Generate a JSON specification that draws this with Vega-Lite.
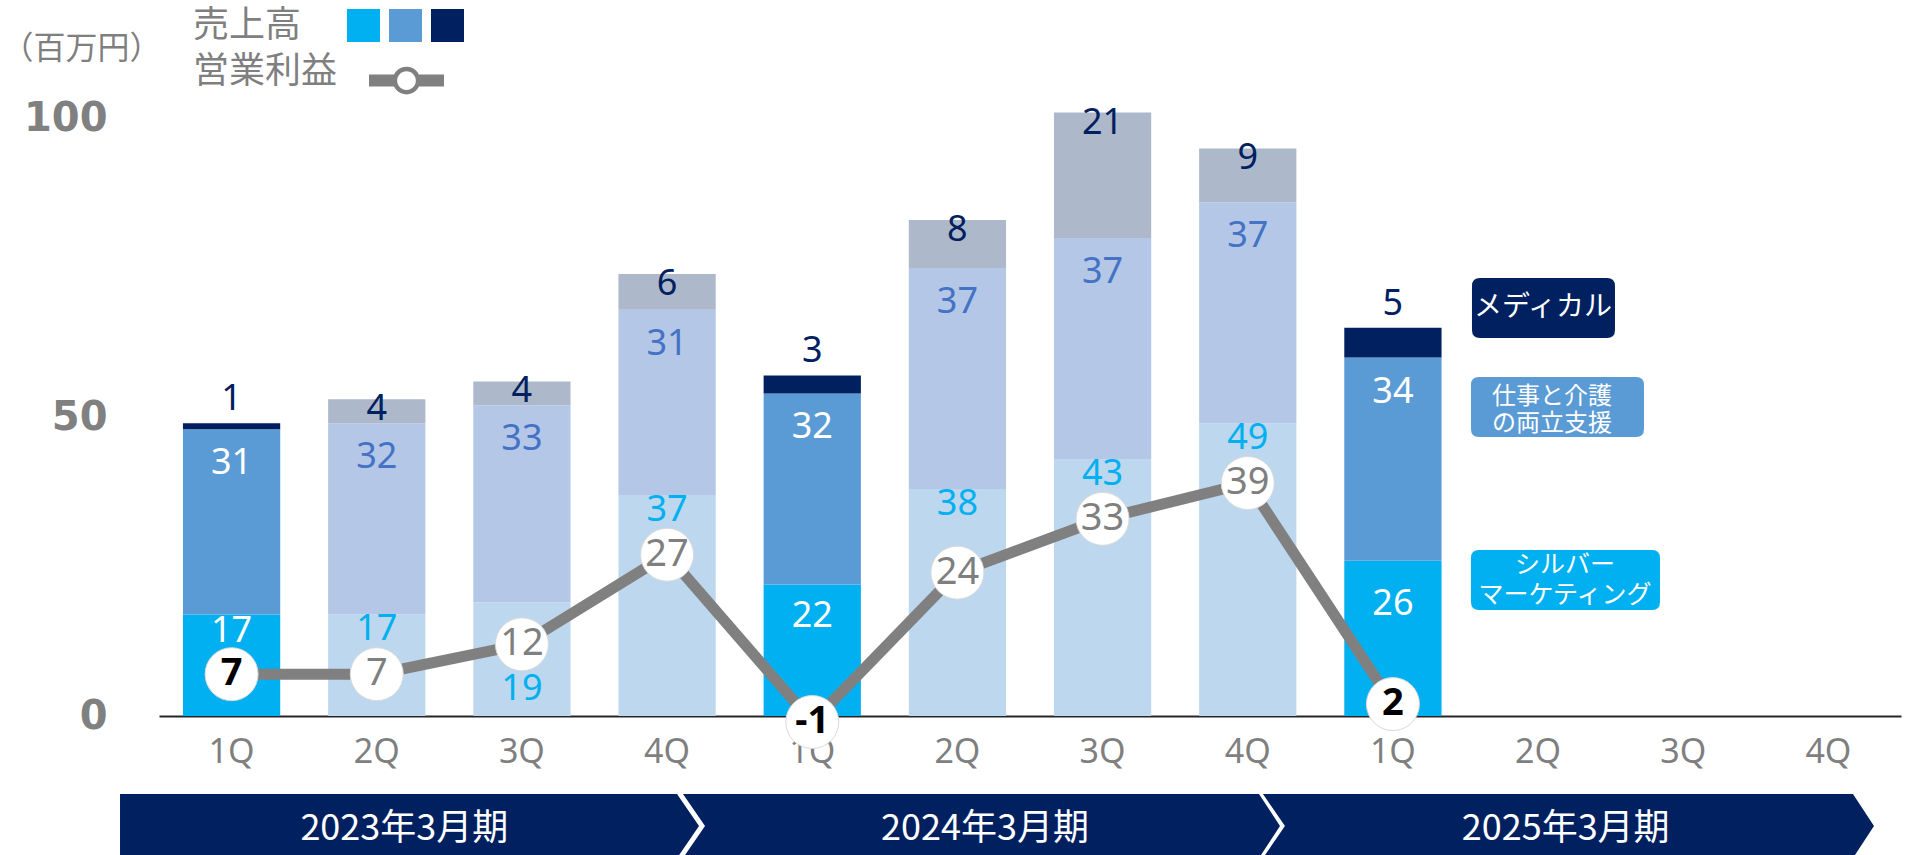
{
  "$schema": "https://vega.github.io/schema/vega-lite/v6.json",
  "autosize": {"type": "none"},
  "padding": {"left": 159, "top": 0, "right": 12, "bottom": 0},
  "width": 1742,
  "height": 855,
  "background": "white",
  "config": {
    "font": "Noto Sans",
    "view": {"stroke": null},
    "axis": {"grid": false},
    "axisX": {"labelExpr": "slice(datum.label, 3)", "labelFont": "Noto Sans", "labelFontSize": 34, "labelColor": "#7F7F7F", "labelPadding": 19, "labelAngle": 0, "ticks": false, "domain": true, "domainColor": "#262626", "domainWidth": 2, "offset": -139, "grid": false},
    "axisY": {"labelFont": "DejaVu Sans", "labelFontWeight": "bold", "labelFontSize": 40, "labelColor": "#808080", "labelPadding": 52, "labelBaseline": "middle", "ticks": false, "domain": false, "grid": false, "titleAngle": 0, "titleX": -78, "titleY": 48, "titleAlign": "center", "titleBaseline": "middle", "titleFont": "Noto Sans CJK JP", "titleFontSize": 32, "titleFontWeight": "normal", "titleColor": "#7F7F7F"},
    "legend": {"padding": 0, "orient": "none"}
  },
  "layer": [
    {
      "data": {
        "values": [
          {"period": "23-1Q", "fy": "2023年3月期", "q": "1Q", "silver": 17, "work": 31, "medical": 1, "profit": 7},
          {"period": "23-2Q", "fy": "2023年3月期", "q": "2Q", "silver": 17, "work": 32, "medical": 4, "profit": 7},
          {"period": "23-3Q", "fy": "2023年3月期", "q": "3Q", "silver": 19, "work": 33, "medical": 4, "profit": 12},
          {"period": "23-4Q", "fy": "2023年3月期", "q": "4Q", "silver": 37, "work": 31, "medical": 6, "profit": 27},
          {"period": "24-1Q", "fy": "2024年3月期", "q": "1Q", "silver": 22, "work": 32, "medical": 3, "profit": -1},
          {"period": "24-2Q", "fy": "2024年3月期", "q": "2Q", "silver": 38, "work": 37, "medical": 8, "profit": 24},
          {"period": "24-3Q", "fy": "2024年3月期", "q": "3Q", "silver": 43, "work": 37, "medical": 21, "profit": 33},
          {"period": "24-4Q", "fy": "2024年3月期", "q": "4Q", "silver": 49, "work": 37, "medical": 9, "profit": 39},
          {"period": "25-1Q", "fy": "2025年3月期", "q": "1Q", "silver": 26, "work": 34, "medical": 5, "profit": 2}
        ]
      },
      "layer": [
        {
          "transform": [
            {"fold": ["silver", "work", "medical"], "as": ["seg", "value"]},
            {"calculate": "indexof(['silver','work','medical'], datum.seg)", "as": "ord"},
            {"calculate": "datum.seg + (datum.q == '1Q' ? '_hi' : '_lo')", "as": "ck"},
            {"stack": "value", "groupby": ["period"], "sort": [{"field": "ord", "order": "ascending"}], "as": ["v0", "v1"]},
            {"calculate": "(datum.v0 + datum.v1) / 2", "as": "mid"}
          ],
          "layer": [
            {
              "mark": {"type": "bar", "opacity": 1},
              "encoding": {
                "x": {
                  "field": "period", "type": "nominal", "title": null,
                  "scale": {"domain": ["23-1Q","23-2Q","23-3Q","23-4Q","24-1Q","24-2Q","24-3Q","24-4Q","25-1Q","25-2Q","25-3Q","25-4Q"], "paddingInner": 0.33, "paddingOuter": 0.165}
                },
                "y": {
                  "field": "v1", "type": "quantitative", "title": "（百万円）",
                  "scale": {"domain": [-23.26, 119.84], "nice": false, "zero": false},
                  "axis": {"values": [0, 50, 100]}
                },
                "y2": {"field": "v0"},
                "color": {
                  "field": "ck", "type": "nominal",
                  "scale": {"domain": ["silver_hi","work_hi","medical_hi","silver_lo","work_lo","medical_lo"], "range": ["#00B0F0","#5B9BD5","#002060","#BDD7EE","#B4C7E7","#ADB9CA"]},
                  "legend": {
                    "title": "売上高", "orient": "none", "legendX": 34, "legendY": 9, "direction": "horizontal",
                    "values": ["silver_hi","work_hi","medical_hi"], "labelExpr": "''",
                    "symbolType": "square", "symbolSize": 1089, "symbolStrokeWidth": 0, "labelOffset": 0, "columnPadding": 9,
                    "titleOrient": "left", "titlePadding": 45, "titleFont": "Noto Sans CJK JP", "titleFontSize": 36, "titleFontWeight": "normal", "titleColor": "#7F7F7F", "titleBaseline": "middle", "titleAnchor": "middle",
                    "encode": {
                      "title": {"update": {"dy": {"value": 3}}},
                      "symbols": {"update": {"fill": {"signal": "datum.value === 'work_hi' ? '#4472C4' : scale('color', datum.value)"}, "opacity": {"value": 1}, "strokeWidth": {"value": 0}}}
                    }
                  }
                }
              }
            },
            {
              "transform": [{"filter": "datum.seg == 'work'"}],
              "mark": {"type": "text", "font": "Noto Sans", "fontSize": 36, "baseline": "middle", "dy": 34},
              "encoding": {
                "x": {"field": "period", "type": "nominal", "title": null},
                "y": {"field": "v1", "type": "quantitative", "title": "（百万円）", "scale": {"domain": [-23.26, 119.84], "nice": false, "zero": false}},
                "text": {"field": "value"},
                "color": {"condition": {"test": "datum.q == '1Q'", "value": "white"}, "value": "#4472C4"}
              }
            },
            {
              "transform": [{"filter": "datum.seg == 'medical' && datum.q == '1Q'"}],
              "mark": {"type": "text", "font": "Noto Sans", "fontSize": 36, "baseline": "middle", "dy": -24, "color": "#002060"},
              "encoding": {
                "x": {"field": "period", "type": "nominal", "title": null},
                "y": {"field": "v1", "type": "quantitative", "title": "（百万円）", "scale": {"domain": [-23.26, 119.84], "nice": false, "zero": false}},
                "text": {"field": "value"}
              }
            },
            {
              "transform": [{"filter": "datum.seg == 'medical' && datum.q != '1Q'"}],
              "mark": {"type": "text", "font": "Noto Sans", "fontSize": 36, "baseline": "middle", "dy": 10, "color": "#002060"},
              "encoding": {
                "x": {"field": "period", "type": "nominal", "title": null},
                "y": {"field": "v1", "type": "quantitative", "title": "（百万円）", "scale": {"domain": [-23.26, 119.84], "nice": false, "zero": false}},
                "text": {"field": "value"}
              }
            },
            {
              "transform": [{"filter": "datum.seg == 'silver' && datum.q == '1Q'"}],
              "mark": {"type": "text", "font": "Noto Sans", "fontSize": 36, "baseline": "middle", "dy": -34, "color": "white"},
              "encoding": {
                "x": {"field": "period", "type": "nominal", "title": null},
                "y": {"field": "mid", "type": "quantitative", "title": "（百万円）", "scale": {"domain": [-23.26, 119.84], "nice": false, "zero": false}},
                "text": {"field": "value"}
              }
            },
            {
              "transform": [{"filter": "datum.seg == 'silver' && datum.q != '1Q' && datum.value - datum.profit >= 8"}],
              "mark": {"type": "text", "font": "Noto Sans", "fontSize": 36, "baseline": "middle", "dy": 15, "color": "#00B0F0"},
              "encoding": {
                "x": {"field": "period", "type": "nominal", "title": null},
                "y": {"field": "v1", "type": "quantitative", "title": "（百万円）", "scale": {"domain": [-23.26, 119.84], "nice": false, "zero": false}},
                "text": {"field": "value"}
              }
            },
            {
              "transform": [{"filter": "datum.seg == 'silver' && datum.q != '1Q' && datum.value - datum.profit < 8"}],
              "mark": {"type": "text", "font": "Noto Sans", "fontSize": 36, "baseline": "middle", "dy": -27, "color": "#00B0F0"},
              "encoding": {
                "x": {"field": "period", "type": "nominal", "title": null},
                "y": {"field": "v0", "type": "quantitative", "title": "（百万円）", "scale": {"domain": [-23.26, 119.84], "nice": false, "zero": false}},
                "text": {"field": "value"}
              }
            }
          ]
        },
        {
          "mark": {"type": "line", "strokeWidth": 11, "strokeJoin": "miter"},
          "encoding": {
            "x": {"field": "period", "type": "nominal", "title": null},
            "y": {"field": "profit", "type": "quantitative", "title": "（百万円）", "scale": {"domain": [-23.26, 119.84], "nice": false, "zero": false}},
            "stroke": {
              "datum": "営業利益", "type": "nominal",
              "scale": {"range": ["#808080"]},
              "legend": {
                "title": "営業利益", "orient": "none", "legendX": 34, "legendY": 43, "direction": "horizontal",
                "labelExpr": "''", "labelOffset": 0,
                "symbolType": "M-1,-0.16L-0.28,-0.16L-0.28,0.16L-1,0.16Z M0.28,-0.16L1,-0.16L1,0.16L0.28,0.16Z M0.37,0A0.37,0.37 0 1,1 -0.37,0A0.37,0.37 0 1,1 0.37,0Z M0.25,0A0.25,0.25 0 1,0 -0.25,0A0.25,0.25 0 1,0 0.25,0Z",
                "symbolSize": 5625,
                "titleOrient": "left", "titlePadding": 31, "titleFont": "Noto Sans CJK JP", "titleFontSize": 36, "titleFontWeight": "normal", "titleColor": "#7F7F7F", "titleBaseline": "middle", "titleAnchor": "middle",
                "encode": {
                  "title": {"update": {"dy": {"value": 3}}},
                  "symbols": {"update": {"fill": {"value": "#808080"}, "stroke": {"value": "transparent"}, "strokeWidth": {"value": 0}, "opacity": {"value": 1}}}
                }
              }
            }
          }
        },
        {
          "mark": {"type": "point", "shape": "circle", "filled": true, "fill": "white", "stroke": "#D9D9D9", "strokeWidth": 1, "size": 2809, "opacity": 1},
          "encoding": {
            "x": {"field": "period", "type": "nominal", "title": null},
            "y": {"field": "profit", "type": "quantitative", "title": "（百万円）", "scale": {"domain": [-23.26, 119.84], "nice": false, "zero": false}}
          }
        },
        {
          "transform": [{"filter": "datum.q == '1Q'"}],
          "mark": {"type": "text", "font": "Noto Sans", "fontSize": 38, "fontWeight": "bold", "baseline": "middle", "color": "black"},
          "encoding": {
            "x": {"field": "period", "type": "nominal", "title": null},
            "y": {"field": "profit", "type": "quantitative", "title": "（百万円）", "scale": {"domain": [-23.26, 119.84], "nice": false, "zero": false}},
            "text": {"field": "profit"}
          }
        },
        {
          "transform": [{"filter": "datum.q != '1Q'"}],
          "mark": {"type": "text", "font": "Noto Sans", "fontSize": 38, "baseline": "middle", "color": "#7F7F7F"},
          "encoding": {
            "x": {"field": "period", "type": "nominal", "title": null},
            "y": {"field": "profit", "type": "quantitative", "title": "（百万円）", "scale": {"domain": [-23.26, 119.84], "nice": false, "zero": false}},
            "text": {"field": "profit"}
          }
        },
        {
          "data": {"values": [{"t": "メディカル"}]},
          "layer": [
            {
              "mark": {"type": "point", "shape": "M-0.581,-0.3L0.689,-0.3Q0.769,-0.3 0.769,-0.22L0.769,0.22Q0.769,0.3 0.689,0.3L-0.581,0.3Q-0.661,0.3 -0.661,0.22L-0.661,-0.22Q-0.661,-0.3 -0.581,-0.3Z", "size": 40000, "filled": true, "fill": "#002060", "strokeWidth": 0, "opacity": 1},
              "encoding": {
                "x": {"datum": "25-2Q", "type": "nominal", "title": null},
                "y": {"datum": 68.28, "type": "quantitative", "title": "（百万円）", "scale": {"domain": [-23.26, 119.84], "nice": false, "zero": false}}
              }
            },
            {
              "mark": {"type": "text", "font": "Noto Sans CJK JP", "fontSize": 28, "color": "white", "dx": 5, "baseline": "middle"},
              "encoding": {
                "x": {"datum": "25-2Q", "type": "nominal", "title": null},
                "y": {"datum": 68.28, "type": "quantitative", "title": "（百万円）", "scale": {"domain": [-23.26, 119.84], "nice": false, "zero": false}},
                "text": {"field": "t"}
              }
            }
          ]
        },
        {
          "data": {"values": [{"t": "仕事と介護\nの両立支援"}]},
          "layer": [
            {
              "mark": {"type": "point", "shape": "M-0.591,-0.3L0.979,-0.3Q1.059,-0.3 1.059,-0.22L1.059,0.22Q1.059,0.3 0.979,0.3L-0.591,0.3Q-0.671,0.3 -0.671,0.22L-0.671,-0.22Q-0.671,-0.3 -0.591,-0.3Z", "size": 40000, "filled": true, "fill": "#5B9BD5", "strokeWidth": 0, "opacity": 1},
              "encoding": {
                "x": {"datum": "25-2Q", "type": "nominal", "title": null},
                "y": {"datum": 51.72, "type": "quantitative", "title": "（百万円）", "scale": {"domain": [-23.26, 119.84], "nice": false, "zero": false}}
              }
            },
            {
              "mark": {"type": "text", "font": "Noto Sans CJK JP", "fontSize": 24, "lineHeight": 27, "lineBreak": "\n", "color": "white", "dx": 14, "dy": -10, "baseline": "middle"},
              "encoding": {
                "x": {"datum": "25-2Q", "type": "nominal", "title": null},
                "y": {"datum": 51.72, "type": "quantitative", "title": "（百万円）", "scale": {"domain": [-23.26, 119.84], "nice": false, "zero": false}},
                "text": {"field": "t"}
              }
            }
          ]
        },
        {
          "data": {"values": [{"t": "シルバー\nマーケティング"}]},
          "layer": [
            {
              "mark": {"type": "point", "shape": "M-0.591,-0.3L1.139,-0.3Q1.219,-0.3 1.219,-0.22L1.219,0.22Q1.219,0.3 1.139,0.3L-0.591,0.3Q-0.671,0.3 -0.671,0.22L-0.671,-0.22Q-0.671,-0.3 -0.591,-0.3Z", "size": 40000, "filled": true, "fill": "#00B0F0", "strokeWidth": 0, "opacity": 1},
              "encoding": {
                "x": {"datum": "25-2Q", "type": "nominal", "title": null},
                "y": {"datum": 22.76, "type": "quantitative", "title": "（百万円）", "scale": {"domain": [-23.26, 119.84], "nice": false, "zero": false}}
              }
            },
            {
              "mark": {"type": "text", "font": "Noto Sans CJK JP", "fontSize": 25, "lineHeight": 30, "lineBreak": "\n", "color": "white", "dx": 27, "dy": -15, "baseline": "middle"},
              "encoding": {
                "x": {"datum": "25-2Q", "type": "nominal", "title": null},
                "y": {"datum": 22.76, "type": "quantitative", "title": "（百万円）", "scale": {"domain": [-23.26, 119.84], "nice": false, "zero": false}},
                "text": {"field": "t"}
              }
            }
          ]
        }
      ]
    },
    {
      "data": {"values": [{"fy": "2023年3月期"}, {"fy": "2024年3月期"}, {"fy": "2025年3月期"}]},
      "layer": [
        {
          "mark": {"type": "point", "size": 360000, "filled": true, "fill": "#002060", "strokeWidth": 0, "opacity": 1},
          "encoding": {
            "x": {"field": "fy", "type": "nominal", "scale": {"type": "band", "paddingInner": 0, "paddingOuter": 0}, "axis": null},
            "y": {"datum": -18.41, "type": "quantitative", "title": "（百万円）", "scale": {"domain": [-23.26, 119.84], "nice": false, "zero": false}},
            "shape": {
              "field": "fy", "type": "nominal",
              "scale": {"domain": ["2023年3月期", "2024年3月期", "2025年3月期"], "range": [
                "M-1.0977,-0.1067L0.759,-0.1067L0.8323,0L0.759,0.1067L-1.0977,0.1067Z",
                "M-1.1567,-0.1067L0.7633,-0.1067L0.8333,0L0.7633,0.1067L-1.1567,0.1067L-1.0833,0Z",
                "M-1.159,-0.1067L0.8077,-0.1067L0.8777,0L0.8077,0.1067L-1.159,0.1067L-1.0857,0Z"
              ]},
              "legend": null
            }
          }
        },
        {
          "mark": {"type": "text", "font": "Noto Sans CJK JP", "fontSize": 36, "fontWeight": "normal", "color": "white", "dx": -45, "dy": 3, "baseline": "middle"},
          "encoding": {
            "x": {"field": "fy", "type": "nominal", "axis": null},
            "y": {"datum": -18.41, "type": "quantitative", "title": "（百万円）", "scale": {"domain": [-23.26, 119.84], "nice": false, "zero": false}},
            "text": {"field": "fy"}
          }
        }
      ]
    }
  ],
  "resolve": {"scale": {"x": "independent"}}
}
